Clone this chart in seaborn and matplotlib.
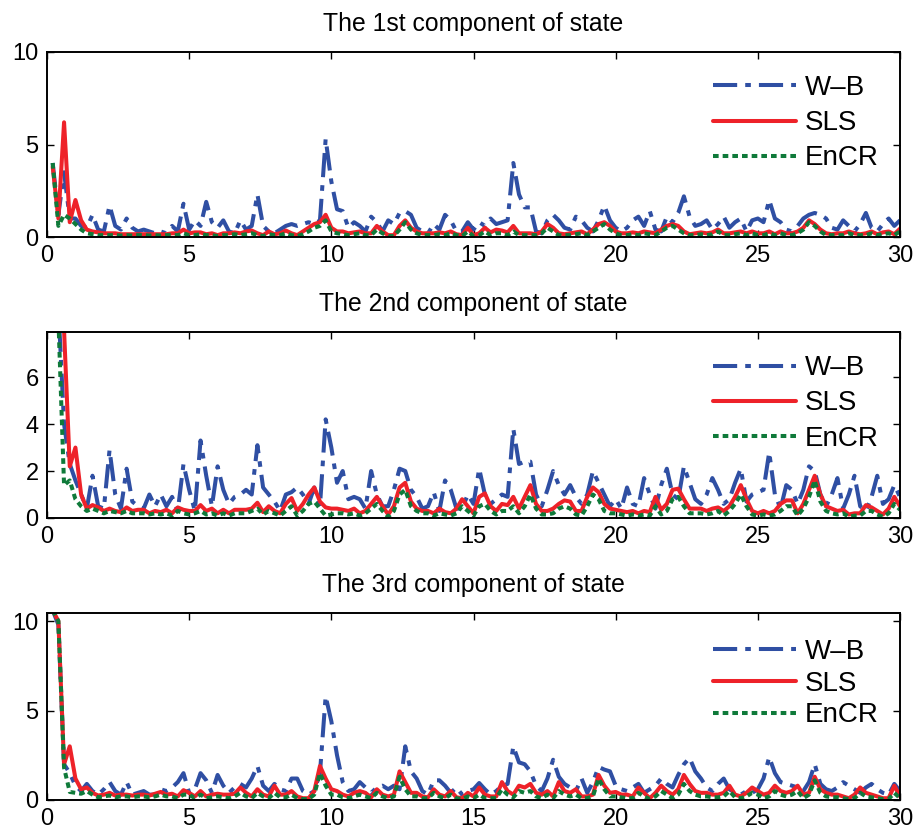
import numpy as np
import pandas as pd
import matplotlib
matplotlib.use("Agg")
import matplotlib.pyplot as plt
import seaborn as sns

# time grid (step 0.2 from 0.2 to 30)
t = np.round(np.arange(1, 151) * 0.2, 1)

titles = ["The 1st component of state", "The 2nd component of state", "The 3rd component of state"]
labels = ["W\u2013B", "SLS", "EnCR"]

# ---------------- component 1 ----------------
wb1 = [4.0,1.2,3.5,1.0,1.0,0.6,0.5,1.2,0.4,0.3, 1.7,0.6,0.4,1.0,0.5,0.3,0.4,0.3,0.2,0.3, 0.2,0.6,0.3,1.8,0.4,
       0.9,0.6,1.9,0.8,0.5,0.9,0.3,0.2,0.9,0.4, 0.6,2.3,0.6,0.3,0.2,0.4,0.6,0.7,0.6,0.7, 0.8,0.7,0.9,5.3,3.0,
       1.5,1.4,0.5,0.8,0.6,0.3,1.1,0.8,0.3,0.9, 0.7,1.3,1.4,1.2,0.5,0.3,0.2,0.7,0.4,1.2, 0.9,0.3,0.3,0.8,0.4,
       0.8,0.6,1.0,0.7,0.8,0.9,4.0,2.3,1.6,1.6, 0.3,0.2,0.9,1.2,0.9,0.5,0.4,1.1,0.9,0.5, 0.3,0.9,1.7,0.9,0.5,
       0.3,0.5,0.9,1.1,0.6,1.4,0.4,0.3,1.1,0.8, 1.3,2.2,1.1,0.6,0.7,0.9,0.4,0.7,1.1,0.5, 0.8,1.0,0.3,0.9,1.0,
       0.8,2.0,1.0,0.8,0.4,0.3,0.6,1.0,1.2,1.3, 1.2,1.0,0.5,0.4,0.9,0.6,0.3,0.7,1.3,0.5, 0.3,0.7,1.0,0.6,0.9]
sls1 = [3.8,1.0,6.2,0.8,2.0,0.9,0.4,0.3,0.25,0.2, 0.2,0.2,0.15,0.15,0.15,0.15,0.15,0.15,0.15,0.15, 0.15,0.2,0.2,0.4,0.2,
        0.25,0.25,0.15,0.2,0.1,0.2,0.2,0.25,0.2,0.3, 0.35,0.2,0.1,0.3,0.15,0.2,0.35,0.2,0.1,0.3, 0.5,0.7,0.8,1.2,0.5,
        0.3,0.3,0.2,0.25,0.3,0.2,0.2,0.6,0.3,0.1, 0.1,0.6,0.9,0.5,0.3,0.2,0.2,0.2,0.25,0.2, 0.3,0.15,0.1,0.5,0.1,
        0.2,0.5,0.25,0.4,0.35,0.25,0.6,0.2,0.2,0.2, 0.15,0.3,0.7,0.5,0.2,0.15,0.2,0.25,0.3,0.15, 0.4,0.7,0.8,0.6,0.3,
        0.2,0.2,0.25,0.2,0.3,0.25,0.2,0.4,0.6,0.7, 0.6,0.3,0.15,0.2,0.25,0.2,0.25,0.4,0.2,0.2, 0.25,0.3,0.2,0.3,0.2,
        0.2,0.3,0.15,0.3,0.2,0.2,0.3,0.5,0.9,0.7, 0.4,0.2,0.15,0.2,0.2,0.3,0.2,0.15,0.2,0.3, 0.15,0.25,0.3,0.15,0.45]
en1 = [4.0,0.6,1.2,1.0,0.7,0.4,0.2,0.15,0.1,0.1, 0.1,0.1,0.08,0.1,0.08,0.1,0.1,0.08,0.1,0.08, 0.1,0.1,0.1,0.2,0.1,
       0.1,0.15,0.1,0.1,0.05,0.1,0.1,0.15,0.1,0.15, 0.2,0.1,0.05,0.15,0.1,0.1,0.2,0.1,0.05,0.15, 0.3,0.5,0.6,0.9,0.3,
       0.2,0.15,0.1,0.15,0.2,0.1,0.1,0.4,0.2,0.05, 0.05,0.4,0.8,0.4,0.2,0.1,0.1,0.1,0.15,0.1, 0.2,0.1,0.05,0.3,0.05,
       0.1,0.3,0.1,0.2,0.2,0.1,0.3,0.1,0.1,0.1, 0.1,0.2,0.5,0.3,0.1,0.1,0.1,0.15,0.2,0.1, 0.3,0.5,0.7,0.4,0.2,
       0.1,0.1,0.15,0.1,0.2,0.15,0.1,0.3,0.5,0.6, 0.4,0.2,0.1,0.1,0.15,0.1,0.15,0.3,0.1,0.1, 0.15,0.2,0.1,0.2,0.1,
       0.1,0.2,0.1,0.2,0.1,0.1,0.2,0.4,0.8,0.6, 0.3,0.1,0.1,0.1,0.1,0.2,0.1,0.1,0.1,0.2, 0.1,0.15,0.2,0.1,0.3]

# ---------------- component 2 ----------------
wb2 = [12,9,4.0,2.3,1.6,1.0,0.4,1.8,0.5,0.4, 2.9,1.0,0.4,2.1,0.7,0.5,0.4,1.0,0.5,1.0, 0.5,0.9,0.3,2.3,1.2,
       0.3,3.3,1.8,0.5,2.2,1.2,0.6,0.9,1.0,1.2, 1.0,3.1,1.3,1.0,0.7,0.3,1.0,1.1,1.3,1.0, 0.6,1.3,0.5,4.2,3.0,
       1.5,2.0,0.8,0.9,0.8,0.4,2.0,1.0,0.5,0.5, 1.2,2.1,2.0,1.2,0.9,0.4,0.5,1.1,0.3,1.6, 1.2,0.4,0.4,1.0,0.6,
       2.1,1.0,0.6,0.8,1.0,0.9,3.8,2.3,2.4,2.4, 1.0,0.5,1.2,2.0,1.4,1.0,1.4,0.9,0.6,1.0, 2.0,1.5,1.0,0.5,0.8,
       0.4,1.3,0.6,0.5,1.7,1.0,0.4,1.4,2.1,1.0, 0.8,2.2,1.5,0.8,0.6,1.0,1.7,1.2,0.6,0.8, 1.5,2.1,0.7,1.0,1.1,
       1.2,2.8,1.0,0.4,1.4,1.2,0.6,1.2,2.2,2.0, 1.0,0.5,1.0,1.7,0.4,1.0,1.8,0.5,0.3,0.9, 1.8,0.6,0.8,1.4,0.9]
sls2 = [12,9,8.0,2.2,3.0,1.0,0.4,0.55,0.45,0.3, 0.4,0.3,0.25,0.45,0.3,0.35,0.35,0.2,0.3,0.25, 0.35,0.2,0.45,0.35,0.3,
        0.3,0.55,0.3,0.4,0.2,0.35,0.2,0.35,0.35,0.35, 0.4,0.65,0.25,0.5,0.3,0.2,0.6,0.85,0.3,0.6, 1.0,1.3,0.7,0.45,0.4,
        0.4,0.35,0.3,0.4,0.2,0.3,0.6,0.9,0.5,0.15, 0.5,1.3,1.5,0.7,0.4,0.3,0.3,0.2,0.4,0.25, 0.2,0.4,0.8,0.5,0.2,
        0.9,1.05,0.5,0.3,0.6,0.55,0.9,0.4,0.9,1.4, 0.6,0.3,0.3,0.4,0.6,0.75,0.7,0.3,0.3,0.9, 1.3,1.1,0.6,0.4,0.35,
        0.3,0.25,0.3,0.2,0.3,0.25,0.9,0.35,0.6,1.2, 1.25,0.8,0.4,0.4,0.4,0.3,0.4,0.45,0.3,0.5, 0.9,1.4,0.8,0.3,0.2,
        0.3,0.2,0.3,0.6,0.75,0.75,0.2,0.6,1.2,1.8, 1.0,0.5,0.4,0.3,0.35,0.15,0.2,0.2,0.55,0.45, 0.3,0.15,0.4,0.9,0.5]
en2 = [12,8.5,1.4,1.6,0.8,0.5,0.3,0.4,0.3,0.2, 0.3,0.25,0.2,0.3,0.2,0.2,0.2,0.15,0.2,0.15, 0.2,0.1,0.3,0.2,0.15,
       0.2,0.3,0.15,0.2,0.1,0.2,0.1,0.2,0.2,0.2, 0.3,0.4,0.15,0.3,0.2,0.1,0.3,0.5,0.1,0.3, 0.6,0.7,0.4,0.1,0.15,
       0.2,0.2,0.15,0.2,0.1,0.2,0.4,0.6,0.3,0.05, 0.3,1.0,1.2,0.5,0.3,0.2,0.2,0.1,0.2,0.15, 0.1,0.2,0.5,0.3,0.1,
       0.5,0.6,0.3,0.15,0.3,0.3,0.5,0.2,0.5,1.0, 0.4,0.15,0.15,0.2,0.4,0.5,0.4,0.15,0.1,0.5, 1.0,0.8,0.3,0.2,0.2,
       0.15,0.1,0.15,0.1,0.15,0.1,0.5,0.15,0.3,0.8, 0.9,0.5,0.2,0.2,0.2,0.15,0.2,0.3,0.1,0.3, 0.6,1.0,0.5,0.15,0.1,
       0.15,0.1,0.15,0.3,0.5,0.5,0.1,0.4,0.9,1.6, 0.7,0.3,0.2,0.15,0.2,0.05,0.1,0.1,0.3,0.3, 0.15,0.05,0.2,0.6,0.35]

# ---------------- component 3 ----------------
wb3 = [10.6,9.8,2.0,1.5,0.8,0.5,0.9,0.5,0.3,0.6, 1.0,0.5,0.3,1.0,0.3,0.4,0.5,0.3,0.3,0.6, 0.5,0.7,1.0,1.5,0.4,
       0.6,1.5,1.1,0.4,1.4,0.8,0.4,0.7,0.9,0.7, 1.2,1.9,0.8,0.5,0.9,0.6,0.5,1.2,1.2,0.5, 0.3,0.5,1.5,5.8,4.4,
       2.5,1.0,0.5,0.6,1.0,0.7,0.4,0.7,0.8,0.6, 0.8,0.6,3.0,1.6,1.2,0.5,0.3,1.1,1.1,0.8, 0.4,0.7,0.3,0.5,0.6,
       0.95,0.6,0.3,0.5,0.8,0.9,3.0,2.1,2.0,1.6, 0.8,0.5,1.2,2.25,1.3,0.9,0.7,0.5,1.2,0.4, 1.0,1.85,1.7,1.6,0.8,
       0.6,0.5,0.7,0.9,0.4,0.6,0.8,1.2,0.9,0.7, 1.4,2.0,2.35,1.6,1.2,0.7,0.5,0.9,1.2,0.6, 0.4,0.3,0.5,0.4,0.6,
       1.2,2.4,1.5,1.0,0.9,0.8,0.7,0.5,1.0,2.0, 0.9,0.6,0.5,0.7,1.0,0.8,0.6,0.4,0.7,0.9, 0.6,0.4,0.3,0.9,0.5]
sls3 = [10.6,10.0,2.0,3.0,1.2,0.6,0.7,0.4,0.25,0.3, 0.4,0.25,0.3,0.3,0.25,0.3,0.3,0.25,0.35,0.45, 0.3,0.35,0.2,0.55,0.4,
        0.2,0.5,0.2,0.3,0.35,0.3,0.3,0.35,0.7,0.4, 0.2,0.6,0.3,0.2,0.8,0.3,0.3,0.5,0.2,0.1, 0.1,0.5,1.9,1.2,0.6,
        0.5,0.3,0.2,0.4,0.5,0.4,0.15,0.6,0.3,0.2, 0.3,1.6,1.0,0.4,0.4,0.2,0.15,0.6,0.3,0.2, 0.5,0.15,0.1,0.4,0.2,
        0.7,0.3,0.2,0.2,1.0,0.5,0.3,0.8,0.7,0.9, 0.4,0.3,0.5,0.2,1.0,0.5,0.4,0.6,0.2,0.2, 0.3,1.4,0.8,0.4,0.45,
        0.3,0.3,0.2,0.7,0.4,0.1,0.4,0.8,0.5,0.3, 0.6,1.4,0.9,0.5,0.4,0.4,0.3,0.3,0.4,0.8, 0.3,0.2,0.4,0.7,0.5,
        0.3,0.4,0.8,0.5,0.4,0.5,0.8,0.3,0.4,1.3, 0.6,0.4,0.3,0.3,0.2,0.1,0.3,0.7,0.4,0.3, 0.2,0.1,0.1,0.8,0.2]
en3 = [10.6,10.0,1.8,0.45,0.4,0.35,0.5,0.3,0.15,0.2, 0.25,0.15,0.2,0.2,0.15,0.2,0.2,0.15,0.2,0.3, 0.2,0.2,0.1,0.3,0.3,
       0.1,0.3,0.1,0.15,0.2,0.15,0.1,0.2,0.4,0.2, 0.1,0.4,0.2,0.1,0.4,0.15,0.15,0.3,0.1,0.05, 0.05,0.3,1.5,0.8,0.3,
       0.3,0.15,0.1,0.2,0.3,0.2,0.1,0.4,0.2,0.1, 0.2,1.3,0.6,0.2,0.2,0.1,0.1,0.4,0.2,0.1, 0.3,0.1,0.05,0.2,0.1,
       0.3,0.1,0.1,0.1,0.6,0.3,0.15,0.5,0.4,0.5, 0.2,0.1,0.3,0.1,0.5,0.3,0.2,0.3,0.1,0.1, 0.2,1.2,0.6,0.2,0.2,
       0.15,0.1,0.1,0.4,0.2,0.05,0.2,0.5,0.3,0.1, 0.3,0.9,0.5,0.3,0.2,0.2,0.15,0.15,0.2,0.5, 0.15,0.1,0.2,0.4,0.3,
       0.1,0.2,0.5,0.3,0.2,0.3,0.5,0.1,0.3,1.1, 0.4,0.2,0.15,0.15,0.1,0.05,0.1,0.4,0.2,0.15, 0.1,0.05,0.05,0.4,0.1]

panels = [(wb1, sls1, en1), (wb2, sls2, en2), (wb3, sls3, en3)]
ylims = [(0, 10), (0, 7.92), (0, 10.45)]
yticks = [[0, 5, 10], [0, 2, 4, 6], [0, 5, 10]]
xticks = [0, 5, 10, 15, 20, 25, 30]

sns.set_style("ticks")
plt.rcParams["font.family"] = ["Liberation Sans", "DejaVu Sans"]
plt.rcParams["text.color"] = "black"
plt.rcParams["axes.edgecolor"] = "black"
plt.rcParams["xtick.color"] = "black"
plt.rcParams["ytick.color"] = "black"
plt.rcParams["axes.titlecolor"] = "black"

colors = ["#2f4fa3", "#ee2229", "#0f7a3a"]
styles = [(0, (6.0, 2.0, 1.4, 2.0)), "-", (0, (1.4, 1.0))]

fig = plt.figure(figsize=(9.16, 8.34), dpi=100)
bottoms = [1 - 237 / 834, 1 - 518 / 834, 1 - 800 / 834]
heights = [185 / 834, 186 / 834, 187 / 834]
left = 47 / 916
width = 853 / 916
leg_anchor = [0.875, 0.875, 0.86]
leg_spacing = [0.33, 0.33, 0.2]

for k, (series, yl, yt, title) in enumerate(zip(panels, ylims, yticks, titles)):
    ax = fig.add_axes([left, bottoms[k], width, heights[k]])
    for vals, lab, col, ls in zip(series, labels, colors, styles):
        df = pd.DataFrame({"t": t, "v": vals})
        sns.lineplot(data=df, x="t", y="v", ax=ax, color=col, linestyle=ls,
                     linewidth=2.9, label=lab, estimator=None, sort=False)
    ax.set_xlim(0, 30)
    ax.set_ylim(*yl)
    ax.set_xticks(xticks)
    ax.set_yticks(yt)
    ax.set_xlabel("")
    ax.set_ylabel("")
    ax.set_title(title, fontsize=17.8, pad=15, color="black")
    ax.tick_params(direction="in", top=True, right=True, labelsize=17, length=5,
                   width=1.0, pad=6, colors="black")
    for sp in ax.spines.values():
        sp.set_linewidth(1.4)
        sp.set_color("black")
        sp.set_visible(True)
    leg = ax.legend(loc="upper right", bbox_to_anchor=(0.975, leg_anchor[k]), frameon=False,
                    fontsize=20, handlelength=3.0, handletextpad=0.3,
                    labelspacing=leg_spacing[k], borderpad=0, borderaxespad=0)
    for txt in leg.get_texts():
        txt.set_color("black")

fig.savefig("out.png", dpi=100)
